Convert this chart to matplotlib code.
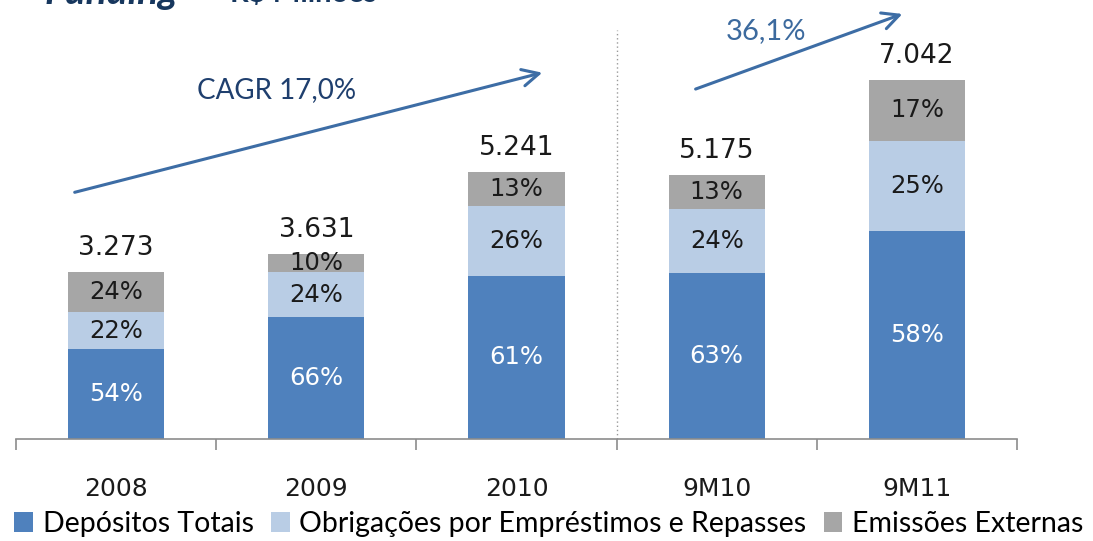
import matplotlib
matplotlib.use("Agg")
import matplotlib.pyplot as plt
from matplotlib.patches import Patch
import numpy as np

categories = ["2008", "2009", "2010", "9M10", "9M11"]
totals = [3273, 3631, 5241, 5175, 7042]
total_labels = ["3.273", "3.631", "5.241", "5.175", "7.042"]
pct_depositos = [54, 66, 61, 63, 58]
pct_obrigacoes = [22, 24, 26, 24, 25]
pct_emissoes = [24, 10, 13, 13, 17]
series_names = ["Depósitos Totais", "Obrigações por Empréstimos e Repasses", "Emissões Externas"]
colors = ["#4F81BD", "#B9CDE5", "#A6A6A6"]

W, H = 1093, 541
fig = plt.figure(figsize=(W / 100, H / 100), dpi=100)
ax = fig.add_axes([16 / W, 102 / H, 1001 / W, 409 / H])

x = np.arange(len(categories))
tot = np.array(totals, dtype=float)
pcts = [np.array(pct_depositos), np.array(pct_obrigacoes), np.array(pct_emissoes)]
bottom = np.zeros(len(categories))
for i, (p, c) in enumerate(zip(pcts, colors)):
    vals = tot * p / 100.0
    ax.bar(x, vals, width=0.48, bottom=bottom, color=c, edgecolor="none")
    for xi, b, v, pp in zip(x, bottom, vals, p):
        ax.text(xi, b + v / 2, f"{pp}%", ha="center", va="center", fontsize=17.5,
                color="white" if i == 0 else "#1a1a1a", family="DejaVu Sans")
    bottom = bottom + vals

for xi, t, lab in zip(x, tot, total_labels):
    ax.text(xi, t + 220, lab, ha="center", va="bottom", fontsize=19, color="#1a1a1a",
            family="DejaVu Sans")

ax.set_xlim(-0.5, len(categories) - 0.5)
ax.set_ylim(0, 8020)
for s in ["top", "right", "left"]:
    ax.spines[s].set_visible(False)
ax.spines["bottom"].set_color("#8c8c8c")
ax.spines["bottom"].set_linewidth(1.2)
ax.set_yticks([])
ax.set_xticks(x)
ax.set_xticklabels(categories, fontsize=18, family="DejaVu Sans", color="#1a1a1a")
ax.tick_params(axis="x", which="major", length=0, pad=27)
ax.set_xticks(np.arange(-0.5, len(categories)), minor=True)
ax.tick_params(axis="x", which="minor", length=8, color="#8c8c8c", width=1.2, direction="out")

ax.axvline(2.5, ymin=0, ymax=1, color="#999999", linestyle=(0, (1, 2)), linewidth=1)

arrow_color = "#3D6DA5"
fig.add_artist(matplotlib.patches.FancyArrowPatch((72, H - 193), (545, H - 72),
               transform=None, arrowstyle="->,head_length=12,head_width=6",
               color=arrow_color, linewidth=2.2, mutation_scale=1))
fig.add_artist(matplotlib.patches.FancyArrowPatch((693, H - 90), (905, H - 13),
               transform=None, arrowstyle="->,head_length=12,head_width=6",
               color=arrow_color, linewidth=2.2, mutation_scale=1))
fig.text(277 / W, 1 - 90 / H, "CAGR 17,0%", ha="center", va="center", fontsize=20,
         color="#1F3F6E", family="Lato")
fig.text(766 / W, 1 - 31 / H, "36,1%", ha="center", va="center", fontsize=21,
         color="#3C6A9E", family="Lato")

# cut-off title (only its lower part is visible in the reference)
fig.text(45 / W, 1 - 4 / H, "Funding", ha="left", va="baseline", fontsize=28,
         fontweight="bold", fontstyle="italic", color="#17375E", family="Lato")
fig.text(230 / W, 1 - 2 / H, "R$ Milhões", ha="left", va="baseline", fontsize=21,
         fontweight="bold", color="#17375E", family="Lato")

handles = [Patch(facecolor=c, edgecolor="none") for c in colors]
fig.legend(handles, series_names, loc="center", bbox_to_anchor=(549 / W, 1 - 524 / H),
           ncol=3, frameon=False, prop={"family": "Lato", "size": 20.5},
           handlelength=0.65, handleheight=0.65, handletextpad=0.35, columnspacing=0.6,
           borderpad=0, borderaxespad=0)

fig.savefig("out.png", dpi=100)
